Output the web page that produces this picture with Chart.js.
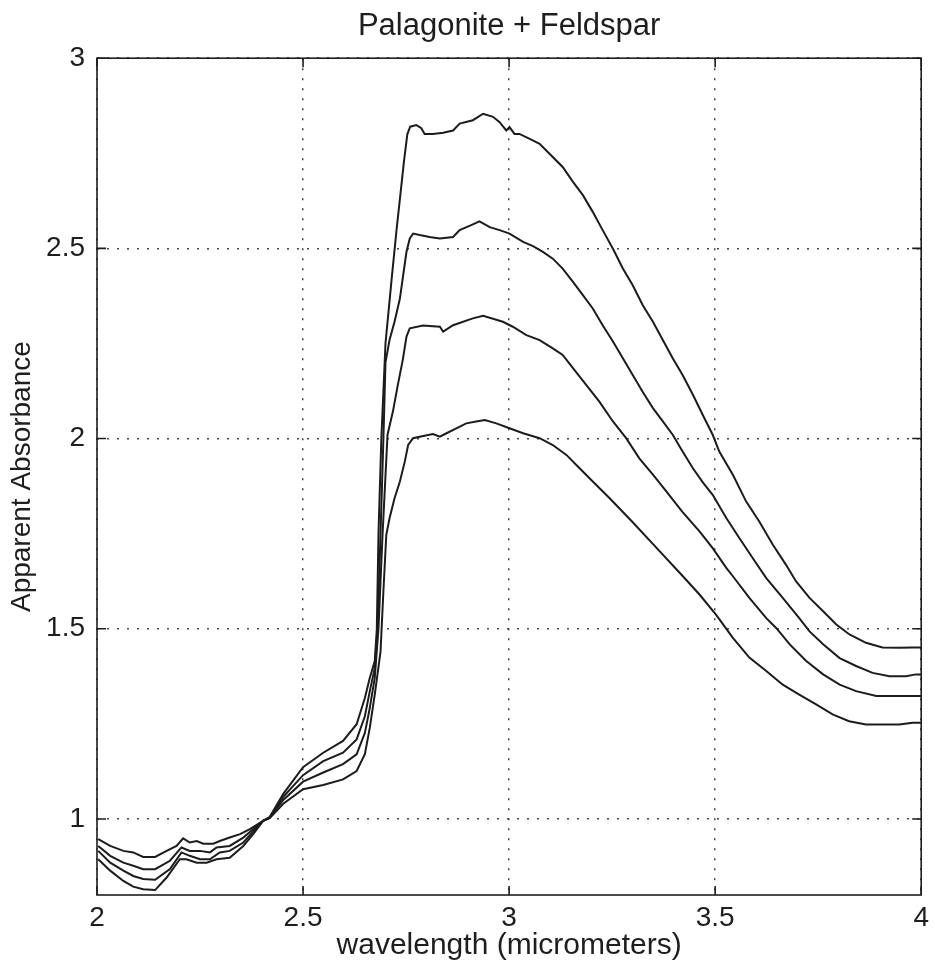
<!DOCTYPE html>
<html><head><meta charset="utf-8">
<script src="https://cdn.jsdelivr.net/npm/chart.js@4/dist/chart.umd.min.js"></script>
<style>html,body{margin:0;padding:0;background:#fff}</style>
</head><body>
<canvas id="c" width="935" height="972"></canvas>
<script>
// ---- data (wavelength in micrometers, apparent absorbance) ----
const wlA = [2.003,2.032,2.064,2.088,2.112,2.141,2.169,2.201,2.217,2.242,2.266,2.290,2.322,2.355,2.379,2.403,2.419,2.452,2.500,2.549,2.597,2.630,2.650,2.662,2.674,2.679,2.683,2.690,2.700,2.715,2.727,2.737,2.745,2.753,2.760,2.775,2.787,2.795,2.815,2.840,2.864,2.880,2.912,2.937,2.961,2.977,2.993,3.001,3.013,3.025,3.050,3.074,3.098,3.130,3.155,3.179,3.203,3.227,3.252,3.276,3.300,3.324,3.349,3.373,3.397,3.421,3.446,3.470,3.494,3.510,3.543,3.575,3.607,3.640,3.672,3.696,3.729,3.762,3.794,3.826,3.866,3.906,3.947,3.979,4.000];
const absA = [0.894,0.864,0.837,0.822,0.815,0.813,0.846,0.894,0.894,0.885,0.885,0.894,0.898,0.929,0.960,0.995,1.005,1.066,1.136,1.174,1.205,1.249,1.318,1.371,1.415,1.500,1.750,2.000,2.250,2.420,2.550,2.650,2.730,2.800,2.820,2.824,2.816,2.801,2.801,2.804,2.810,2.828,2.837,2.854,2.846,2.832,2.810,2.819,2.801,2.801,2.788,2.775,2.749,2.714,2.675,2.640,2.596,2.548,2.499,2.447,2.403,2.351,2.307,2.259,2.211,2.167,2.115,2.062,2.010,1.966,1.905,1.835,1.782,1.721,1.668,1.625,1.581,1.546,1.511,1.485,1.463,1.451,1.450,1.451,1.451];

const wlB = [2.003,2.032,2.064,2.088,2.112,2.141,2.177,2.205,2.225,2.250,2.274,2.298,2.322,2.355,2.403,2.419,2.452,2.500,2.549,2.597,2.630,2.650,2.662,2.674,2.681,2.688,2.695,2.700,2.710,2.722,2.735,2.743,2.751,2.759,2.767,2.783,2.807,2.832,2.864,2.880,2.908,2.928,2.953,2.977,3.001,3.034,3.058,3.082,3.106,3.130,3.155,3.179,3.203,3.227,3.252,3.276,3.300,3.324,3.349,3.373,3.397,3.421,3.446,3.470,3.494,3.527,3.559,3.591,3.624,3.664,3.704,3.729,3.762,3.802,3.842,3.882,3.923,3.963,3.987,4.000];
const absB = [0.916,0.885,0.864,0.850,0.842,0.840,0.868,0.912,0.903,0.894,0.894,0.912,0.916,0.938,0.995,1.004,1.058,1.115,1.152,1.174,1.209,1.270,1.336,1.397,1.500,1.750,2.000,2.200,2.260,2.307,2.368,2.430,2.491,2.526,2.539,2.535,2.530,2.526,2.530,2.548,2.561,2.571,2.556,2.548,2.539,2.517,2.506,2.491,2.473,2.447,2.412,2.377,2.342,2.298,2.255,2.211,2.167,2.123,2.080,2.045,2.010,1.966,1.922,1.885,1.852,1.791,1.738,1.686,1.633,1.581,1.528,1.493,1.459,1.423,1.402,1.384,1.375,1.375,1.380,1.380];

const wlC = [2.003,2.032,2.064,2.088,2.112,2.141,2.177,2.205,2.225,2.250,2.274,2.290,2.322,2.355,2.403,2.419,2.452,2.500,2.549,2.597,2.630,2.650,2.662,2.674,2.683,2.693,2.705,2.718,2.730,2.742,2.751,2.759,2.791,2.832,2.840,2.864,2.912,2.937,2.985,3.009,3.042,3.074,3.106,3.130,3.155,3.187,3.219,3.252,3.284,3.316,3.349,3.381,3.420,3.462,3.494,3.527,3.543,3.583,3.624,3.648,3.681,3.721,3.762,3.802,3.842,3.891,3.947,4.000];
const absC = [0.929,0.903,0.885,0.877,0.868,0.868,0.890,0.925,0.916,0.916,0.912,0.925,0.929,0.951,0.995,1.003,1.050,1.098,1.122,1.144,1.170,1.226,1.292,1.371,1.500,1.750,2.010,2.071,2.141,2.207,2.268,2.290,2.297,2.294,2.281,2.298,2.316,2.323,2.307,2.294,2.272,2.259,2.237,2.220,2.185,2.141,2.097,2.045,2.001,1.948,1.905,1.862,1.808,1.756,1.712,1.660,1.638,1.581,1.528,1.502,1.459,1.415,1.380,1.353,1.336,1.323,1.323,1.323];

const wlD = [2.003,2.032,2.064,2.088,2.112,2.141,2.169,2.193,2.209,2.225,2.242,2.258,2.282,2.298,2.322,2.347,2.371,2.403,2.419,2.452,2.500,2.549,2.597,2.630,2.650,2.662,2.674,2.688,2.695,2.702,2.710,2.722,2.735,2.747,2.755,2.767,2.783,2.815,2.832,2.848,2.872,2.896,2.920,2.941,2.969,3.001,3.034,3.074,3.106,3.139,3.171,3.203,3.244,3.300,3.360,3.420,3.462,3.502,3.543,3.583,3.624,3.664,3.704,3.745,3.785,3.825,3.866,3.906,3.947,3.979,4.000];
const absD = [0.947,0.929,0.916,0.912,0.900,0.900,0.916,0.929,0.949,0.938,0.942,0.935,0.935,0.942,0.951,0.960,0.973,0.995,1.002,1.040,1.078,1.089,1.104,1.126,1.170,1.240,1.327,1.440,1.600,1.747,1.791,1.843,1.887,1.940,1.983,2.001,2.005,2.012,2.005,2.014,2.027,2.040,2.045,2.049,2.040,2.027,2.014,2.001,1.983,1.957,1.922,1.887,1.843,1.780,1.710,1.640,1.590,1.537,1.476,1.424,1.389,1.353,1.327,1.301,1.275,1.257,1.248,1.248,1.248,1.253,1.253];

const xTicks = [2, 2.5, 3, 3.5, 4];
const xTickLabels = ['2', '2.5', '3', '3.5', '4'];
const yTicks = [1, 1.5, 2, 2.5, 3];
const yTickLabels = ['1', '1.5', '2', '2.5', '3'];

const chartTitle = 'Palagonite + Feldspar';
const xTitle = 'wavelength (micrometers)';
const yTitle = 'Apparent Absorbance';

// ---- build ----
const toPts = (xs, ys) => xs.map((x, i) => ({x: x, y: ys[i]}));
const lineColor = '#1c1c1c';
const mk = (xs, ys) => ({
  data: toPts(xs, ys), borderColor: lineColor, borderWidth: 2,
  pointRadius: 0, tension: 0, fill: false
});

const FONT = "'Liberation Sans', Arial, Helvetica, sans-serif";
const TXT = '#1e1e1e';

const framePlugin = {
  id: 'frame',
  afterDatasetsDraw(chart) {
    const {ctx, chartArea: a, scales: {x, y}} = chart;
    ctx.save();
    ctx.strokeStyle = '#1e1e1e';
    ctx.lineWidth = 1.6;
    ctx.strokeRect(a.left, a.top, a.right - a.left, a.bottom - a.top);
    const L = 9;
    ctx.beginPath();
    xTicks.forEach(v => {
      const px = x.getPixelForValue(v);
      ctx.moveTo(px, a.bottom); ctx.lineTo(px, a.bottom - L);
      ctx.moveTo(px, a.top); ctx.lineTo(px, a.top + L);
    });
    yTicks.forEach(v => {
      const py = y.getPixelForValue(v);
      ctx.moveTo(a.left, py); ctx.lineTo(a.left + L, py);
      ctx.moveTo(a.right, py); ctx.lineTo(a.right - L, py);
    });
    ctx.stroke();
    ctx.restore();
  }
};

new Chart(document.getElementById('c'), {
  type: 'line',
  data: { datasets: [mk(wlA, absA), mk(wlB, absB), mk(wlC, absC), mk(wlD, absD)] },
  options: {
    responsive: false,
    animation: false,
    layout: { padding: { left: 0, right: 13, top: 0, bottom: 0 } },
    plugins: {
      legend: { display: false },
      tooltip: { enabled: false },
      title: {
        display: true, text: chartTitle, fullSize: false, color: TXT,
        font: { family: FONT, size: 31, weight: 'normal' },
        padding: { top: 8, bottom: 13 }
      }
    },
    scales: {
      x: {
        type: 'linear', min: 2, max: 4,
        afterBuildTicks: s => { s.ticks = xTicks.map(v => ({value: v})); },
        afterFit: s => { s.height = 77; },
        ticks: {
          color: TXT, font: { family: FONT, size: 28 }, padding: 6,
          maxRotation: 0, autoSkip: false,
          callback: (v) => xTickLabels[xTicks.indexOf(v)] ?? ''
        },
        grid: { color: '#444', lineWidth: 1.5, drawTicks: false },
        border: { display: false, dash: [2, 8] },
        title: {
          display: true, text: xTitle, color: TXT,
          font: { family: FONT, size: 30 }, padding: { top: 0, bottom: 8 }
        }
      },
      y: {
        type: 'linear', min: 0.8, max: 3,
        afterBuildTicks: s => { s.ticks = yTicks.map(v => ({value: v})); },
        afterFit: s => { s.width = 97; },
        ticks: {
          color: TXT, font: { family: FONT, size: 28 }, padding: 12,
          autoSkip: false,
          callback: (v) => yTickLabels[yTicks.indexOf(v)] ?? ''
        },
        grid: { color: '#444', lineWidth: 1.5, drawTicks: false },
        border: { display: false, dash: [2, 8] },
        title: {
          display: true, text: yTitle, color: TXT,
          font: { family: FONT, size: 28 }, padding: { top: 5, bottom: 0 }
        }
      }
    }
  },
  plugins: [framePlugin]
});
</script>
</body></html>
